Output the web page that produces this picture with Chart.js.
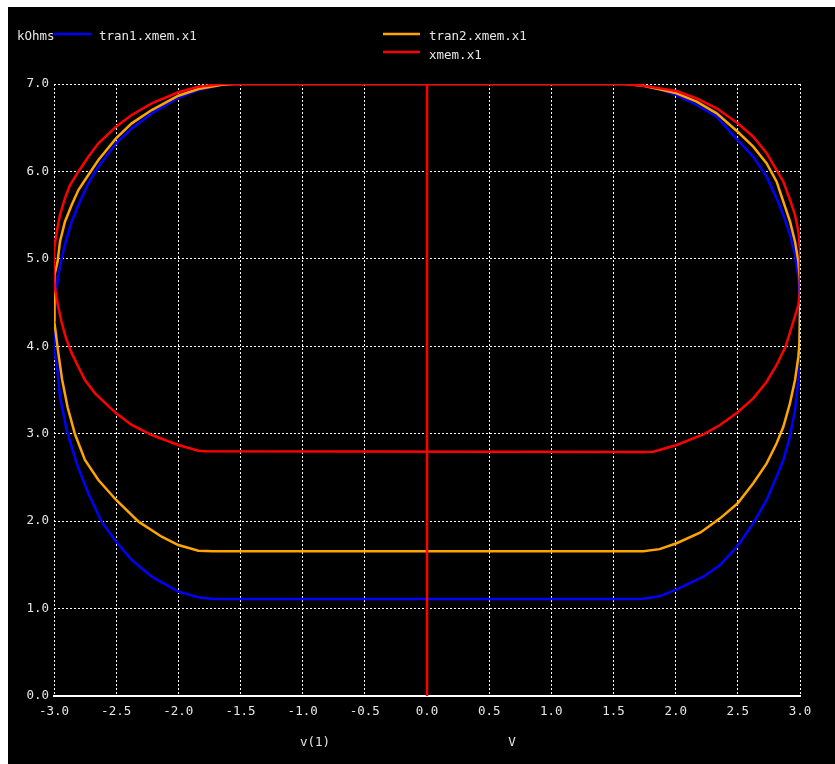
<!DOCTYPE html>
<html>
<head>
<meta charset="utf-8">
<script src="https://cdn.jsdelivr.net/npm/chart.js@4"></script>
<style>
  html, body { margin: 0; padding: 0; background: #fff; }
  canvas { display: block; }
</style>
</head>
<body>
<canvas id="plot" width="835" height="764"></canvas>
<script>
// sweep of v(1) against resistance in kOhms
const tran1X = [0, 1.6, 1.74, 1.87, 2.008, 2.169, 2.33, 2.499, 2.624, 2.732, 2.812, 2.866, 2.92, 2.96, 2.987, 3.0, 3.0, 2.987, 2.96, 2.919, 2.866, 2.812, 2.732, 2.624, 2.499, 2.357, 2.223, 2.008, 1.87, 1.74, 1.6,
  -1.72, -1.839, -2.0, -2.214, -2.375, -2.5, -2.617, -2.724, -2.818, -2.898, -2.952, -2.978, -3.0, -3.0, -2.986, -2.965, -2.938, -2.906, -2.858, -2.804, -2.724, -2.643, -2.501, -2.375, -2.214, -2.0, -1.839, -1.651, -1.55, 0];
const tran1Y = [7, 7, 6.98, 6.94, 6.874, 6.76, 6.626, 6.359, 6.168, 5.94, 5.692, 5.502, 5.273, 5.044, 4.777, 4.434, 3.8, 3.614, 3.271, 2.966, 2.699, 2.509, 2.242, 1.975, 1.716, 1.498, 1.365, 1.22, 1.14, 1.113, 1.11,
  1.11, 1.129, 1.193, 1.365, 1.556, 1.765, 1.994, 2.318, 2.661, 3.042, 3.423, 3.805, 3.95, 4.205, 4.587, 4.815, 5.006, 5.196, 5.425, 5.616, 5.864, 6.054, 6.321, 6.492, 6.664, 6.843, 6.931, 6.99, 7.0, 7];

const tran2X = [0, 1.6, 1.74, 1.87, 2.008, 2.169, 2.33, 2.499, 2.624, 2.732, 2.812, 2.866, 2.92, 2.96, 2.987, 3.0, 3.0, 2.995, 2.987, 2.96, 2.919, 2.866, 2.812, 2.732, 2.624, 2.499, 2.357, 2.2, 2.008, 1.87, 1.74, 1.6,
  -1.72, -1.839, -2.0, -2.134, -2.32, -2.5, -2.643, -2.751, -2.831, -2.89, -2.935, -2.968, -2.988, -3.0, -3.0, -2.992, -2.971, -2.952, -2.912, -2.858, -2.804, -2.724, -2.643, -2.501, -2.375, -2.214, -2.0, -1.839, -1.651, -1.55, 0];
const tran2Y = [7, 7, 6.98, 6.94, 6.893, 6.798, 6.664, 6.454, 6.283, 6.092, 5.883, 5.654, 5.425, 5.196, 4.968, 4.739, 4.434, 4.034, 3.881, 3.614, 3.347, 3.08, 2.89, 2.661, 2.433, 2.204, 2.032, 1.87, 1.747, 1.68, 1.655, 1.655,
  1.655, 1.662, 1.727, 1.822, 1.994, 2.242, 2.47, 2.7, 2.993, 3.3, 3.62, 3.95, 4.18, 4.3, 4.6, 4.815, 4.968, 5.196, 5.425, 5.616, 5.787, 5.959, 6.13, 6.378, 6.55, 6.702, 6.866, 6.943, 6.99, 7.0, 7];

const xmemX = [0, 0, 1.579, 1.74, 1.874, 2.008, 2.169, 2.33, 2.499, 2.624, 2.732, 2.812, 2.866, 2.92, 2.96, 2.987, 3.0, 3.0, 2.987, 2.946, 2.885, 2.812, 2.732, 2.624, 2.499, 2.357, 2.223, 2.008, 1.82, 1.75,
  -1.78, -1.839, -2.0, -2.214, -2.375, -2.5, -2.67, -2.751, -2.818, -2.86, -2.905, -2.94, -2.97, -2.99, -3.0, -3.0, -2.978, -2.952, -2.912, -2.871, -2.804, -2.724, -2.643, -2.501, -2.375, -2.214, -2.0, -1.839, -1.651, 0];
const xmemY = [0, 7, 7, 6.981, 6.95, 6.92, 6.836, 6.722, 6.55, 6.397, 6.207, 6.016, 5.883, 5.673, 5.502, 5.311, 5.12, 4.624, 4.472, 4.281, 4.0, 3.786, 3.595, 3.405, 3.245, 3.1, 2.993, 2.871, 2.795, 2.79,
  2.8, 2.806, 2.871, 2.985, 3.1, 3.233, 3.462, 3.614, 3.805, 3.93, 4.1, 4.28, 4.48, 4.65, 4.78, 5.1, 5.311, 5.502, 5.692, 5.845, 5.997, 6.168, 6.321, 6.512, 6.646, 6.779, 6.905, 6.969, 7.0, 7];

const seriesNames = ['tran1.xmem.x1', 'tran2.xmem.x1', 'xmem.x1'];
const seriesColors = ['#0000ff', '#ffa500', '#ff0000'];
const xTicks = [-3, -2.5, -2, -1.5, -1, -0.5, 0, 0.5, 1, 1.5, 2, 2.5, 3];
const yTicks = [0, 1, 2, 3, 4, 5, 6, 7];

const FONT = 'DejaVu Sans Mono';
const TEXT = '#e6e6e6';

function pts(xs, ys) {
  return xs.map((x, i) => ({ x: x, y: ys[i] }));
}

const panel = {
  id: 'panel',
  beforeDraw(chart) {
    const ctx = chart.ctx;
    ctx.save();
    ctx.fillStyle = '#ffffff';
    ctx.fillRect(0, 0, chart.width, chart.height);
    ctx.fillStyle = '#000000';
    ctx.fillRect(8, 7, chart.width - 8, chart.height - 7);
    ctx.restore();
  },
  afterDraw(chart) {
    const ctx = chart.ctx;
    ctx.save();
    ctx.font = '12.5px "' + FONT + '"';
    ctx.fillStyle = TEXT;
    ctx.textBaseline = 'middle';
    ctx.fillText('kOhms', 17, 37);
    // legend
    const spots = [[54, 34, 99, 37], [383, 34, 429, 37], [383, 52, 429, 56]];
    spots.forEach((s, i) => {
      ctx.strokeStyle = seriesColors[i];
      ctx.lineWidth = 2.5;
      ctx.beginPath();
      ctx.moveTo(s[0], s[1]);
      ctx.lineTo(s[0] + 37, s[1]);
      ctx.stroke();
      ctx.fillStyle = TEXT;
      ctx.fillText(seriesNames[i], s[2], s[3]);
    });
    // x axis name and unit
    ctx.textAlign = 'center';
    ctx.fillText('v(1)', 315, 743);
    ctx.fillText('V', 512, 743);
    ctx.restore();
  }
};

new Chart(document.getElementById('plot'), {
  type: 'scatter',
  data: {
    datasets: [
      { label: seriesNames[0], data: pts(tran1X, tran1Y), borderColor: seriesColors[0], order: 3 },
      { label: seriesNames[1], data: pts(tran2X, tran2Y), borderColor: seriesColors[1], order: 2 },
      { label: seriesNames[2], data: pts(xmemX, xmemY), borderColor: seriesColors[2], order: 1 }
    ]
  },
  options: {
    responsive: false,
    animation: false,
    devicePixelRatio: 1,
    showLine: true,
    elements: {
      point: { radius: 0, hoverRadius: 0 },
      line: { borderWidth: 2.5, tension: 0, fill: false }
    },
    layout: { padding: { top: 84, right: 35, left: 0, bottom: 0 } },
    plugins: { legend: { display: false }, tooltip: { enabled: false } },
    scales: {
      x: {
        type: 'linear', min: -3, max: 3,
        afterFit(s) { s.height = 68; },
        afterBuildTicks(s) { s.ticks = xTicks.map(v => ({ value: v })); },
        ticks: {
          color: TEXT, font: { family: FONT, size: 12.5 }, padding: 8, maxRotation: 0,
          callback: v => v.toFixed(1)
        },
        grid: { color: '#ffffff', lineWidth: 1, drawTicks: false },
        border: { display: true, color: '#ffffff', width: 2, dash: [2, 2] }
      },
      y: {
        type: 'linear', min: 0, max: 7,
        afterFit(s) { s.width = 54; },
        afterBuildTicks(s) { s.ticks = yTicks.map(v => ({ value: v })); },
        ticks: {
          color: TEXT, font: { family: FONT, size: 12.5 }, padding: 5,
          callback: v => v.toFixed(1)
        },
        grid: { color: '#ffffff', lineWidth: 1, drawTicks: false },
        border: { display: false, dash: [2, 2] }
      }
    }
  },
  plugins: [panel]
});
</script>
</body>
</html>
